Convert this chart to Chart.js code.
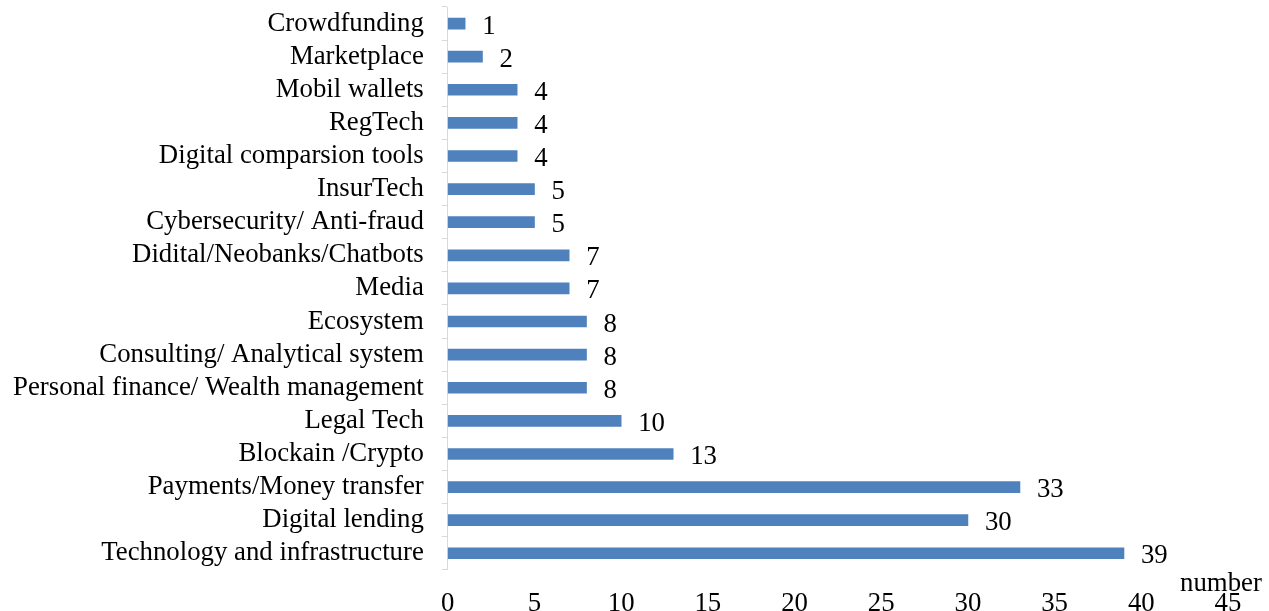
<!DOCTYPE html>
<html>
<head>
<meta charset="utf-8">
<script src="https://cdn.jsdelivr.net/npm/chart.js@4"></script>
<style>
  html, body { margin: 0; padding: 0; background: #fff; }
  #wrap { width: 1269px; height: 611px; }
</style>
</head>
<body>
<div id="wrap"><canvas id="bar-chart"></canvas></div>
<script>
const categories = [
  "Crowdfunding",
  "Marketplace",
  "Mobil wallets",
  "RegTech",
  "Digital comparsion tools",
  "InsurTech",
  "Cybersecurity/ Anti-fraud",
  "Didital/Neobanks/Chatbots",
  "Media",
  "Ecosystem",
  "Consulting/ Analytical system",
  "Personal finance/ Wealth management",
  "Legal Tech",
  "Blockain /Crypto",
  "Payments/Money transfer",
  "Digital lending",
  "Technology and infrastructure",
];
const counts = [1, 2, 4, 4, 4, 5, 5, 7, 7, 8, 8, 8, 10, 13, 33, 30, 39];
const xTicks = [0, 5, 10, 15, 20, 25, 30, 35, 40, 45];

const FONT = "'Liberation Serif', 'Times New Roman', serif";
const SIZE = 26.8;

// value labels next to bars + "number" axis caption
const labelPlugin = {
  id: "valueLabels",
  afterDatasetsDraw(chart) {
    const ctx = chart.ctx;
    const meta = chart.getDatasetMeta(0);
    ctx.save();
    ctx.font = SIZE + "px " + FONT;
    ctx.fillStyle = "#000";
    ctx.textBaseline = "middle";
    ctx.textAlign = "left";
    meta.data.forEach((bar, i) => {
      ctx.fillText(String(counts[i]), bar.x + 17, bar.y + 3);
    });
    const xs = chart.scales.x;
    ctx.textAlign = "center";
    ctx.fillText("number", xs.getPixelForValue(45) - 7, chart.chartArea.bottom + 14);
    ctx.restore();
  },
};

const ctx = document.getElementById("bar-chart").getContext("2d");
new Chart(ctx, {
  type: "bar",
  data: {
    labels: categories,
    datasets: [
      {
        data: counts,
        backgroundColor: "#4f81bd",
        barThickness: 11,
      },
    ],
  },
  options: {
    indexAxis: "y",
    responsive: true,
    maintainAspectRatio: false,
    animation: false,
    layout: { padding: { top: 7, right: 41, bottom: -27, left: -5 } },
    plugins: {
      legend: { display: false },
      tooltip: { enabled: false },
    },
    scales: {
      x: {
        min: 0,
        max: 45,
        afterBuildTicks: (scale) => {
          scale.ticks = xTicks.map((v) => ({ value: v }));
        },
        afterFit: (scale) => {
          scale.paddingLeft = 0;
          scale.paddingRight = 0;
        },
        grid: { display: false, drawTicks: false },
        border: { display: false },
        ticks: {
          color: "#000",
          padding: 18,
          font: { family: FONT, size: SIZE },
          maxRotation: 0,
        },
      },
      y: {
        afterFit: (scale) => {
          scale.paddingTop = 0;
          scale.paddingBottom = 0;
        },
        grid: {
          display: true,
          drawOnChartArea: false,
          tickLength: 6,
          color: "#d9d9d9",
          offset: true,
        },
        border: { display: true, color: "#d9d9d9", width: 1 },
        ticks: {
          color: "#000",
          padding: 18,
          font: { family: FONT, size: SIZE },
          autoSkip: false,
        },
      },
    },
  },
  plugins: [labelPlugin],
});
</script>
</body>
</html>
